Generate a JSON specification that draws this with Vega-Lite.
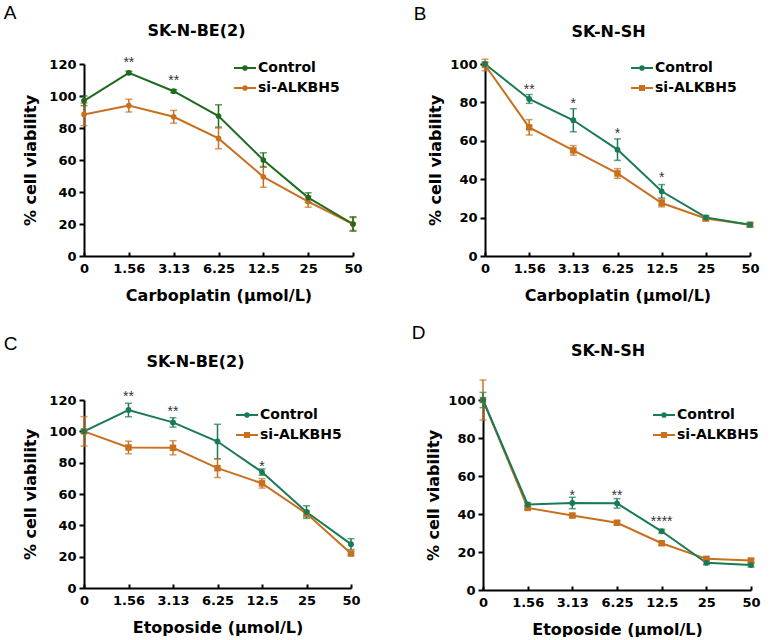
{
  "$schema": "https://vega.github.io/schema/vega-lite/v6.json",
  "background": "white",
  "padding": {"left": 3, "top": 3, "right": 0, "bottom": 0},
  "datasets": {
    "A": [
      {"g": "si-ALKBH5", "dose": "0", "v": 88.5, "e": 7},
      {"g": "si-ALKBH5", "dose": "1.56", "v": 94, "e": 4},
      {"g": "si-ALKBH5", "dose": "3.13", "v": 87, "e": 4},
      {"g": "si-ALKBH5", "dose": "6.25", "v": 73.5, "e": 6.5},
      {"g": "si-ALKBH5", "dose": "12.5", "v": 49.5, "e": 6.5},
      {"g": "si-ALKBH5", "dose": "25", "v": 34, "e": 3.5},
      {"g": "si-ALKBH5", "dose": "50", "v": 20, "e": 4},
      {"g": "Control", "dose": "0", "v": 97, "e": 3},
      {"g": "Control", "dose": "1.56", "v": 114.5, "e": 1},
      {"g": "Control", "dose": "3.13", "v": 103, "e": 1},
      {"g": "Control", "dose": "6.25", "v": 87.5, "e": 7},
      {"g": "Control", "dose": "12.5", "v": 60, "e": 4.5},
      {"g": "Control", "dose": "25", "v": 36.5, "e": 3},
      {"g": "Control", "dose": "50", "v": 20, "e": 4.5}
    ],
    "As": [
      {"dose": "1.56", "v": 124, "t": "**"},
      {"dose": "3.13", "v": 112.3, "t": "**"}
    ],
    "B": [
      {"g": "si-ALKBH5", "dose": "0", "v": 99.5, "e": 3},
      {"g": "si-ALKBH5", "dose": "1.56", "v": 67, "e": 4},
      {"g": "si-ALKBH5", "dose": "3.13", "v": 55, "e": 2.5},
      {"g": "si-ALKBH5", "dose": "6.25", "v": 43, "e": 2.5},
      {"g": "si-ALKBH5", "dose": "12.5", "v": 27.6, "e": 2},
      {"g": "si-ALKBH5", "dose": "25", "v": 19.5, "e": 1},
      {"g": "si-ALKBH5", "dose": "50", "v": 16.3, "e": 1},
      {"g": "Control", "dose": "0", "v": 100, "e": 1},
      {"g": "Control", "dose": "1.56", "v": 81.8, "e": 2.3},
      {"g": "Control", "dose": "3.13", "v": 70.7, "e": 6},
      {"g": "Control", "dose": "6.25", "v": 55.4, "e": 5.6},
      {"g": "Control", "dose": "12.5", "v": 33.7, "e": 3.5},
      {"g": "Control", "dose": "25", "v": 20.1, "e": 1},
      {"g": "Control", "dose": "50", "v": 16.3, "e": 1}
    ],
    "Bs": [
      {"dose": "1.56", "v": 89, "t": "**"},
      {"dose": "3.13", "v": 82, "t": "*"},
      {"dose": "6.25", "v": 66, "t": "*"},
      {"dose": "12.5", "v": 43, "t": "*"}
    ],
    "C": [
      {"g": "si-ALKBH5", "dose": "0", "v": 100, "e": 9.4},
      {"g": "si-ALKBH5", "dose": "1.56", "v": 89.7, "e": 4},
      {"g": "si-ALKBH5", "dose": "3.13", "v": 89.5, "e": 4.5},
      {"g": "si-ALKBH5", "dose": "6.25", "v": 76.5, "e": 6},
      {"g": "si-ALKBH5", "dose": "12.5", "v": 66.8, "e": 3},
      {"g": "si-ALKBH5", "dose": "25", "v": 47.5, "e": 2},
      {"g": "si-ALKBH5", "dose": "50", "v": 22, "e": 1},
      {"g": "Control", "dose": "0", "v": 100, "e": 1},
      {"g": "Control", "dose": "1.56", "v": 113.6, "e": 4.3},
      {"g": "Control", "dose": "3.13", "v": 105.7, "e": 3},
      {"g": "Control", "dose": "6.25", "v": 93.5, "e": 11},
      {"g": "Control", "dose": "12.5", "v": 74, "e": 2},
      {"g": "Control", "dose": "25", "v": 48.5, "e": 4},
      {"g": "Control", "dose": "50", "v": 28, "e": 3.5}
    ],
    "Cs": [
      {"dose": "1.56", "v": 124.8, "t": "**"},
      {"dose": "3.13", "v": 115.7, "t": "**"},
      {"dose": "12.5", "v": 80.5, "t": "*"}
    ],
    "D": [
      {"g": "si-ALKBH5", "dose": "0", "v": 100, "e": 10.5},
      {"g": "si-ALKBH5", "dose": "1.56", "v": 43.2, "e": 1},
      {"g": "si-ALKBH5", "dose": "3.13", "v": 39.2, "e": 1},
      {"g": "si-ALKBH5", "dose": "6.25", "v": 35.4, "e": 1},
      {"g": "si-ALKBH5", "dose": "12.5", "v": 24.6, "e": 1},
      {"g": "si-ALKBH5", "dose": "25", "v": 16.4, "e": 1},
      {"g": "si-ALKBH5", "dose": "50", "v": 15.5, "e": 1},
      {"g": "Control", "dose": "0", "v": 100, "e": 4},
      {"g": "Control", "dose": "1.56", "v": 45, "e": 1},
      {"g": "Control", "dose": "3.13", "v": 45.8, "e": 3},
      {"g": "Control", "dose": "6.25", "v": 45.6, "e": 2.5},
      {"g": "Control", "dose": "12.5", "v": 30.9, "e": 1},
      {"g": "Control", "dose": "25", "v": 14.3, "e": 1},
      {"g": "Control", "dose": "50", "v": 13.1, "e": 1}
    ],
    "Ds": [
      {"dose": "3.13", "v": 51.9, "t": "*"},
      {"dose": "6.25", "v": 51.9, "t": "**"},
      {"dose": "12.5", "v": 38.3, "t": "****"}
    ]
  },
  "resolve": {"scale": {"color": "independent"}, "legend": {"color": "independent"}},
  "spacing": 21,
  "vconcat": [
    {
      "spacing": 50,
      "resolve": {"scale": {"color": "independent"}, "legend": {"color": "independent"}},
      "hconcat": [
        {
          "title": {"text": "A", "anchor": "start", "frame": "bounds", "font": "Liberation Sans", "fontSize": 19, "fontWeight": "normal", "dx": -19, "offset": 0},
          "resolve": {"scale": {"color": "independent"}, "legend": {"color": "independent"}},
          "vconcat": [
            {
              "title": {"text": "SK-N-BE(2)", "dx": -22, "offset": 17},
              "width": 269, "height": 192,
              "data": {"name": "A"},
              "encoding": {
                "x": {"field": "dose", "type": "ordinal", "sort": ["0","1.56","3.13","6.25","12.5","25","50"], "scale": {"type": "point", "padding": 0}, "axis": {"title": "Carboplatin (μmol/L)"}},
                "y": {"field": "v", "type": "quantitative", "scale": {"domain": [0, 120], "nice": false}, "axis": {"values": [0,20,40,60,80,100,120], "title": "% cell viability"}}
              },
              "layer": [
                {"mark": {"type": "line", "strokeWidth": 2},
                 "encoding": {
                   "color": {"field": "g", "type": "nominal", "scale": {"domain": ["Control", "si-ALKBH5"], "range": ["#1e6b1e", "#c8701e"]},
                     "legend": {"orient": "none", "legendX": 150, "legendY": -7, "title": null,
                       "encode": {"symbols": {"update": {"shape": {"value": "M-1,-0.09H1V0.09H-1Z M0.26,0A0.26,0.26,0,1,1,-0.26,0A0.26,0.26,0,1,1,0.26,0Z"}}}}}}}},
                {"mark": {"type": "errorbar", "ticks": {"size": 7, "thickness": 1.5}, "rule": {"strokeWidth": 1.5}},
                 "encoding": {
                   "yError": {"field": "e"},
                   "color": {"field": "g", "type": "nominal", "scale": {"domain": ["Control", "si-ALKBH5"], "range": ["#1e6b1e", "#c8701e"]},
                     "legend": {"orient": "none", "legendX": 150, "legendY": -7, "title": null,
                       "encode": {"symbols": {"update": {"shape": {"value": "M-1,-0.09H1V0.09H-1Z M0.26,0A0.26,0.26,0,1,1,-0.26,0A0.26,0.26,0,1,1,0.26,0Z"}}}}}}}},
                {"mark": {"type": "circle", "opacity": 1, "size": 32},
                 "encoding": {
                   "color": {"field": "g", "type": "nominal", "scale": {"domain": ["Control", "si-ALKBH5"], "range": ["#1e6b1e", "#c8701e"]},
                     "legend": {"orient": "none", "legendX": 150, "legendY": -7, "title": null,
                       "encode": {"symbols": {"update": {"shape": {"value": "M-1,-0.09H1V0.09H-1Z M0.26,0A0.26,0.26,0,1,1,-0.26,0A0.26,0.26,0,1,1,0.26,0Z"}}}}}}}},
                {"data": {"name": "As"},
                 "mark": {"type": "text", "font": "Liberation Sans", "fontSize": 14, "color": "#333", "baseline": "middle", "dy": 5},
                 "encoding": {"text": {"field": "t"}}}
              ]
            }
          ]
        },
        {
          "title": {"text": "B", "anchor": "start", "frame": "bounds", "font": "Liberation Sans", "fontSize": 19, "fontWeight": "normal", "dx": -14, "offset": 0},
          "resolve": {"scale": {"color": "independent"}, "legend": {"color": "independent"}},
          "vconcat": [
            {
              "title": {"text": "SK-N-SH", "dx": -9, "offset": 17},
              "width": 265, "height": 192,
              "data": {"name": "B"},
              "encoding": {
                "x": {"field": "dose", "type": "ordinal", "sort": ["0","1.56","3.13","6.25","12.5","25","50"], "scale": {"type": "point", "padding": 0}, "axis": {"title": "Carboplatin (μmol/L)"}},
                "y": {"field": "v", "type": "quantitative", "scale": {"domain": [0, 100], "nice": false}, "axis": {"values": [0,20,40,60,80,100], "title": "% cell viability", "titlePadding": 6}}
              },
              "layer": [
                {"mark": {"type": "line", "strokeWidth": 2},
                 "encoding": {
                   "color": {"field": "g", "type": "nominal", "scale": {"domain": ["Control", "si-ALKBH5"], "range": ["#1a7a55", "#c8701e"]},
                     "legend": {"orient": "none", "legendX": 146, "legendY": -7, "title": null,
                       "encode": {"symbols": {"update": {"shape": {"signal": "datum.value === 'Control' ? 'M-1,-0.09H1V0.09H-1Z M0.26,0A0.26,0.26,0,1,1,-0.26,0A0.26,0.26,0,1,1,0.26,0Z' : 'M-1,-0.09H1V0.09H-1Z M-0.28,-0.28H0.28V0.28H-0.28Z'"}}}}}}}},
                {"mark": {"type": "errorbar", "ticks": {"size": 7, "thickness": 1.5}, "rule": {"strokeWidth": 1.5}},
                 "encoding": {
                   "yError": {"field": "e"},
                   "color": {"field": "g", "type": "nominal", "scale": {"domain": ["Control", "si-ALKBH5"], "range": ["#1a7a55", "#c8701e"]},
                     "legend": {"orient": "none", "legendX": 146, "legendY": -7, "title": null,
                       "encode": {"symbols": {"update": {"shape": {"signal": "datum.value === 'Control' ? 'M-1,-0.09H1V0.09H-1Z M0.26,0A0.26,0.26,0,1,1,-0.26,0A0.26,0.26,0,1,1,0.26,0Z' : 'M-1,-0.09H1V0.09H-1Z M-0.28,-0.28H0.28V0.28H-0.28Z'"}}}}}}}},
                {"transform": [{"filter": "datum.g === 'si-ALKBH5'"}],
                 "mark": {"type": "square", "opacity": 1, "size": 42},
                 "encoding": {
                   "color": {"field": "g", "type": "nominal", "scale": {"domain": ["Control", "si-ALKBH5"], "range": ["#1a7a55", "#c8701e"]},
                     "legend": {"orient": "none", "legendX": 146, "legendY": -7, "title": null,
                       "encode": {"symbols": {"update": {"shape": {"signal": "datum.value === 'Control' ? 'M-1,-0.09H1V0.09H-1Z M0.26,0A0.26,0.26,0,1,1,-0.26,0A0.26,0.26,0,1,1,0.26,0Z' : 'M-1,-0.09H1V0.09H-1Z M-0.28,-0.28H0.28V0.28H-0.28Z'"}}}}}}}},
                {"transform": [{"filter": "datum.g === 'Control'"}],
                 "mark": {"type": "circle", "opacity": 1, "size": 34},
                 "encoding": {
                   "color": {"field": "g", "type": "nominal", "scale": {"domain": ["Control", "si-ALKBH5"], "range": ["#1a7a55", "#c8701e"]},
                     "legend": {"orient": "none", "legendX": 146, "legendY": -7, "title": null,
                       "encode": {"symbols": {"update": {"shape": {"signal": "datum.value === 'Control' ? 'M-1,-0.09H1V0.09H-1Z M0.26,0A0.26,0.26,0,1,1,-0.26,0A0.26,0.26,0,1,1,0.26,0Z' : 'M-1,-0.09H1V0.09H-1Z M-0.28,-0.28H0.28V0.28H-0.28Z'"}}}}}}}},
                {"data": {"name": "Bs"},
                 "mark": {"type": "text", "font": "Liberation Sans", "fontSize": 14, "color": "#333", "baseline": "middle", "dy": 5},
                 "encoding": {"text": {"field": "t"}}}
              ]
            }
          ]
        }
      ]
    },
    {
      "spacing": 50,
      "resolve": {"scale": {"color": "independent"}, "legend": {"color": "independent"}},
      "hconcat": [
        {
          "title": {"text": "C", "anchor": "start", "frame": "bounds", "font": "Liberation Sans", "fontSize": 19, "fontWeight": "normal", "dx": -19, "offset": 0},
          "resolve": {"scale": {"color": "independent"}, "legend": {"color": "independent"}},
          "vconcat": [
            {
              "title": {"text": "SK-N-BE(2)", "dx": -22, "offset": 20},
              "width": 267, "height": 188,
              "data": {"name": "C"},
              "encoding": {
                "x": {"field": "dose", "type": "ordinal", "sort": ["0","1.56","3.13","6.25","12.5","25","50"], "scale": {"type": "point", "padding": 0}, "axis": {"title": "Etoposide (μmol/L)"}},
                "y": {"field": "v", "type": "quantitative", "scale": {"domain": [0, 120], "nice": false}, "axis": {"values": [0,20,40,60,80,100,120], "title": "% cell viability"}}
              },
              "layer": [
                {"mark": {"type": "line", "strokeWidth": 2},
                 "encoding": {
                   "color": {"field": "g", "type": "nominal", "scale": {"domain": ["Control", "si-ALKBH5"], "range": ["#1a7a55", "#c8701e"]},
                     "legend": {"orient": "none", "legendX": 152, "legendY": 4, "title": null,
                       "encode": {"symbols": {"update": {"shape": {"signal": "datum.value === 'Control' ? 'M-1,-0.09H1V0.09H-1Z M0.26,0A0.26,0.26,0,1,1,-0.26,0A0.26,0.26,0,1,1,0.26,0Z' : 'M-1,-0.09H1V0.09H-1Z M-0.28,-0.28H0.28V0.28H-0.28Z'"}}}}}}}},
                {"mark": {"type": "errorbar", "ticks": {"size": 7, "thickness": 1.5}, "rule": {"strokeWidth": 1.5}},
                 "encoding": {
                   "yError": {"field": "e"},
                   "color": {"field": "g", "type": "nominal", "scale": {"domain": ["Control", "si-ALKBH5"], "range": ["#1a7a55", "#c8701e"]},
                     "legend": {"orient": "none", "legendX": 152, "legendY": 4, "title": null,
                       "encode": {"symbols": {"update": {"shape": {"signal": "datum.value === 'Control' ? 'M-1,-0.09H1V0.09H-1Z M0.26,0A0.26,0.26,0,1,1,-0.26,0A0.26,0.26,0,1,1,0.26,0Z' : 'M-1,-0.09H1V0.09H-1Z M-0.28,-0.28H0.28V0.28H-0.28Z'"}}}}}}}},
                {"transform": [{"filter": "datum.g === 'si-ALKBH5'"}],
                 "mark": {"type": "square", "opacity": 1, "size": 42},
                 "encoding": {
                   "color": {"field": "g", "type": "nominal", "scale": {"domain": ["Control", "si-ALKBH5"], "range": ["#1a7a55", "#c8701e"]},
                     "legend": {"orient": "none", "legendX": 152, "legendY": 4, "title": null,
                       "encode": {"symbols": {"update": {"shape": {"signal": "datum.value === 'Control' ? 'M-1,-0.09H1V0.09H-1Z M0.26,0A0.26,0.26,0,1,1,-0.26,0A0.26,0.26,0,1,1,0.26,0Z' : 'M-1,-0.09H1V0.09H-1Z M-0.28,-0.28H0.28V0.28H-0.28Z'"}}}}}}}},
                {"transform": [{"filter": "datum.g === 'Control'"}],
                 "mark": {"type": "circle", "opacity": 1, "size": 34},
                 "encoding": {
                   "color": {"field": "g", "type": "nominal", "scale": {"domain": ["Control", "si-ALKBH5"], "range": ["#1a7a55", "#c8701e"]},
                     "legend": {"orient": "none", "legendX": 152, "legendY": 4, "title": null,
                       "encode": {"symbols": {"update": {"shape": {"signal": "datum.value === 'Control' ? 'M-1,-0.09H1V0.09H-1Z M0.26,0A0.26,0.26,0,1,1,-0.26,0A0.26,0.26,0,1,1,0.26,0Z' : 'M-1,-0.09H1V0.09H-1Z M-0.28,-0.28H0.28V0.28H-0.28Z'"}}}}}}}},
                {"data": {"name": "Cs"},
                 "mark": {"type": "text", "font": "Liberation Sans", "fontSize": 14, "color": "#333", "baseline": "middle", "dy": 5},
                 "encoding": {"text": {"field": "t"}}}
              ]
            }
          ]
        },
        {
          "title": {"text": "D", "anchor": "start", "frame": "bounds", "font": "Liberation Sans", "fontSize": 19, "fontWeight": "normal", "dx": -14, "offset": 0},
          "resolve": {"scale": {"color": "independent"}, "legend": {"color": "independent"}},
          "vconcat": [
            {
              "title": {"text": "SK-N-SH", "dx": -9, "offset": 20},
              "width": 268, "height": 190,
              "data": {"name": "D"},
              "encoding": {
                "x": {"field": "dose", "type": "ordinal", "sort": ["0","1.56","3.13","6.25","12.5","25","50"], "scale": {"type": "point", "padding": 0}, "axis": {"title": "Etoposide (μmol/L)"}},
                "y": {"field": "v", "type": "quantitative", "scale": {"domain": [0, 100], "nice": false}, "axis": {"values": [0,20,40,60,80,100], "title": "% cell viability", "titlePadding": 6}}
              },
              "layer": [
                {"mark": {"type": "line", "strokeWidth": 2},
                 "encoding": {
                   "color": {"field": "g", "type": "nominal", "scale": {"domain": ["Control", "si-ALKBH5"], "range": ["#1a7a55", "#c8701e"]},
                     "legend": {"orient": "none", "legendX": 170, "legendY": 4, "title": null,
                       "encode": {"symbols": {"update": {"shape": {"signal": "datum.value === 'Control' ? 'M-1,-0.09H1V0.09H-1Z M0.26,0A0.26,0.26,0,1,1,-0.26,0A0.26,0.26,0,1,1,0.26,0Z' : 'M-1,-0.09H1V0.09H-1Z M-0.28,-0.28H0.28V0.28H-0.28Z'"}}}}}}}},
                {"mark": {"type": "errorbar", "ticks": {"size": 7, "thickness": 1.5}, "rule": {"strokeWidth": 1.5}},
                 "encoding": {
                   "yError": {"field": "e"},
                   "color": {"field": "g", "type": "nominal", "scale": {"domain": ["Control", "si-ALKBH5"], "range": ["#1a7a55", "#c8701e"]},
                     "legend": {"orient": "none", "legendX": 170, "legendY": 4, "title": null,
                       "encode": {"symbols": {"update": {"shape": {"signal": "datum.value === 'Control' ? 'M-1,-0.09H1V0.09H-1Z M0.26,0A0.26,0.26,0,1,1,-0.26,0A0.26,0.26,0,1,1,0.26,0Z' : 'M-1,-0.09H1V0.09H-1Z M-0.28,-0.28H0.28V0.28H-0.28Z'"}}}}}}}},
                {"transform": [{"filter": "datum.g === 'si-ALKBH5'"}],
                 "mark": {"type": "square", "opacity": 1, "size": 42},
                 "encoding": {
                   "color": {"field": "g", "type": "nominal", "scale": {"domain": ["Control", "si-ALKBH5"], "range": ["#1a7a55", "#c8701e"]},
                     "legend": {"orient": "none", "legendX": 170, "legendY": 4, "title": null,
                       "encode": {"symbols": {"update": {"shape": {"signal": "datum.value === 'Control' ? 'M-1,-0.09H1V0.09H-1Z M0.26,0A0.26,0.26,0,1,1,-0.26,0A0.26,0.26,0,1,1,0.26,0Z' : 'M-1,-0.09H1V0.09H-1Z M-0.28,-0.28H0.28V0.28H-0.28Z'"}}}}}}}},
                {"transform": [{"filter": "datum.g === 'Control'"}],
                 "mark": {"type": "circle", "opacity": 1, "size": 34},
                 "encoding": {
                   "color": {"field": "g", "type": "nominal", "scale": {"domain": ["Control", "si-ALKBH5"], "range": ["#1a7a55", "#c8701e"]},
                     "legend": {"orient": "none", "legendX": 170, "legendY": 4, "title": null,
                       "encode": {"symbols": {"update": {"shape": {"signal": "datum.value === 'Control' ? 'M-1,-0.09H1V0.09H-1Z M0.26,0A0.26,0.26,0,1,1,-0.26,0A0.26,0.26,0,1,1,0.26,0Z' : 'M-1,-0.09H1V0.09H-1Z M-0.28,-0.28H0.28V0.28H-0.28Z'"}}}}}}}},
                {"data": {"name": "Ds"},
                 "mark": {"type": "text", "font": "Liberation Sans", "fontSize": 14, "color": "#333", "baseline": "middle", "dy": 5},
                 "encoding": {"text": {"field": "t"}}}
              ]
            }
          ]
        }
      ]
    }
  ],
  "config": {
    "view": {"stroke": null},
    "title": {"font": "DejaVu Sans", "fontSize": 16, "fontWeight": "bold", "color": "black", "anchor": "middle", "offset": 20},
    "axis": {"domainColor": "black", "domainWidth": 2, "tickColor": "black", "tickWidth": 2, "grid": false,
      "labelFont": "DejaVu Sans", "labelFontWeight": "bold", "labelFontSize": 13, "labelColor": "black",
      "titleFont": "DejaVu Sans", "titleFontWeight": "bold", "titleFontSize": 16, "titleColor": "black"},
    "axisX": {"tickSize": -4, "labelPadding": 10, "labelAngle": 0, "labelOverlap": false, "titlePadding": 12},
    "axisY": {"tickSize": 5, "labelPadding": 3, "titlePadding": 10},
    "legend": {"padding": 0, "labelFont": "DejaVu Sans", "labelFontWeight": "bold", "labelFontSize": 14, "labelColor": "black",
      "symbolSize": 484, "rowPadding": 2, "labelOffset": 2, "symbolStrokeWidth": 0}
  }
}
